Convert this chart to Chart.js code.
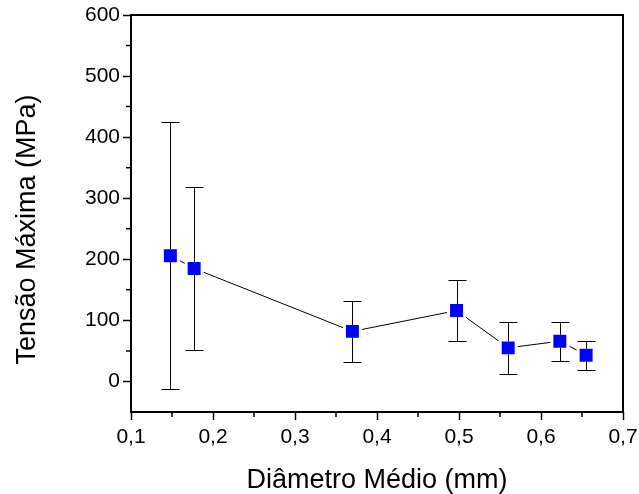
<!DOCTYPE html>
<html>
<head>
<meta charset="utf-8">
<script src="https://cdn.jsdelivr.net/npm/chart.js@4.4.0/dist/chart.umd.min.js"></script>
<style>
  html, body { margin: 0; padding: 0; background: #fff; }
  #wrap { width: 639px; height: 494px; }
</style>
</head>
<body>
<div id="wrap"><canvas id="myChart"></canvas></div>
<script>
  // *****************Data*****************
  const diametro = [0.148, 0.177, 0.37, 0.497, 0.56, 0.623, 0.655];
  const tensao = [206, 185, 82, 116, 55, 66, 43];
  const erro = [218, 133, 50, 50, 43, 32, 24];

  const xTicks = [0.1, 0.2, 0.3, 0.4, 0.5, 0.6, 0.7];
  const xMinor = [0.15, 0.25, 0.35, 0.45, 0.55, 0.65];
  const yTicks = [0, 100, 200, 300, 400, 500, 600];
  const yMinor = [50, 150, 250, 350, 450, 550];

  const xTitle = "Diâmetro Médio (mm)";
  const yTitle = "Tensão Máxima (MPa)";

  const FONT = "'Liberation Sans', Arial, sans-serif";

  // error bars, frame, minor ticks and axis titles
  const extras = {
    id: "extras",
    afterDatasetsDraw(chart) {
      const { ctx, scales: { x, y } } = chart;
      const half = 6.5, cap = 9;
      ctx.save();
      ctx.strokeStyle = "#000";
      ctx.lineWidth = 1;
      diametro.forEach((d, i) => {
        const px = Math.round(x.getPixelForValue(d)) + 0.5;
        const py = y.getPixelForValue(tensao[i]);
        const top = Math.round(y.getPixelForValue(tensao[i] + erro[i])) + 0.5;
        const bot = Math.round(y.getPixelForValue(tensao[i] - erro[i])) + 0.5;
        ctx.beginPath();
        ctx.moveTo(px, top);
        ctx.lineTo(px, py - half);
        ctx.moveTo(px, py + half);
        ctx.lineTo(px, bot);
        ctx.moveTo(px - cap, top);
        ctx.lineTo(px + cap, top);
        ctx.moveTo(px - cap, bot);
        ctx.lineTo(px + cap, bot);
        ctx.stroke();
      });
      ctx.restore();
    },
    afterDraw(chart) {
      const { ctx, chartArea: a, scales: { x, y } } = chart;
      ctx.save();
      ctx.strokeStyle = "#000";
      ctx.lineWidth = 2;
      ctx.strokeRect(a.left, a.top, a.right - a.left, a.bottom - a.top);

      ctx.lineWidth = 1.5;
      ctx.beginPath();
      xMinor.forEach((v) => {
        const px = x.getPixelForValue(v);
        ctx.moveTo(px, a.bottom);
        ctx.lineTo(px, a.bottom + 5);
      });
      yMinor.forEach((v) => {
        const py = y.getPixelForValue(v);
        ctx.moveTo(a.left, py);
        ctx.lineTo(a.left - 5, py);
      });
      ctx.stroke();

      ctx.fillStyle = "#000";
      ctx.font = "27px " + FONT;
      ctx.textAlign = "center";
      ctx.textBaseline = "alphabetic";
      ctx.fillText(xTitle, (a.left + a.right) / 2, a.bottom + 76);
      ctx.translate(35, (a.top + a.bottom) / 2 + 16);
      ctx.rotate(-Math.PI / 2);
      ctx.fillText(yTitle, 0, 0);
      ctx.restore();
    },
  };

  const data = {
    datasets: [
      {
        data: diametro.map((d, i) => ({ x: d, y: tensao[i] })),
        showLine: true,
        borderColor: "#000",
        borderWidth: 1,
        pointStyle: "rect",
        pointRadius: 11.3,
        pointHoverRadius: 11.3,
        pointBackgroundColor: "#0000ff",
        pointBorderColor: "#fff",
        pointBorderWidth: 3,
      },
    ],
  };

  const tickFont = { family: FONT, size: 21 };

  const config = {
    type: "scatter",
    data: data,
    plugins: [extras],
    options: {
      responsive: true,
      maintainAspectRatio: false,
      animation: false,
      layout: { padding: { top: 15, right: 16, left: 0, bottom: 0 } },
      plugins: {
        legend: { display: false },
        tooltip: { enabled: false },
      },
      scales: {
        x: {
          type: "linear",
          min: 0.1,
          max: 0.7,
          afterBuildTicks: (scale) => {
            scale.ticks = xTicks.map((v) => ({ value: v }));
          },
          afterFit: (scale) => {
            scale.height = 82;
            scale.paddingLeft = 0;
            scale.paddingRight = 0;
          },
          ticks: {
            autoSkip: false,
            maxRotation: 0,
            padding: 5,
            color: "#000",
            font: tickFont,
            callback: (v) => Number(v).toFixed(1).replace(".", ","),
          },
          grid: {
            drawOnChartArea: false,
            drawTicks: true,
            tickLength: 8,
            tickColor: "#000",
            tickWidth: 1.5,
          },
          border: { display: false },
        },
        y: {
          type: "linear",
          min: -50,
          max: 600,
          afterBuildTicks: (scale) => {
            scale.ticks = yTicks.map((v) => ({ value: v }));
          },
          afterFit: (scale) => {
            scale.width = 131;
            scale.paddingTop = 0;
            scale.paddingBottom = 0;
          },
          ticks: {
            autoSkip: false,
            padding: 3,
            color: "#000",
            font: tickFont,
            callback: (v) => String(v),
          },
          grid: {
            drawOnChartArea: false,
            drawTicks: true,
            tickLength: 8,
            tickColor: "#000",
            tickWidth: 1.5,
          },
          border: { display: false },
        },
      },
    },
  };

  const myChart = new Chart(document.getElementById("myChart"), config);
</script>
</body>
</html>
